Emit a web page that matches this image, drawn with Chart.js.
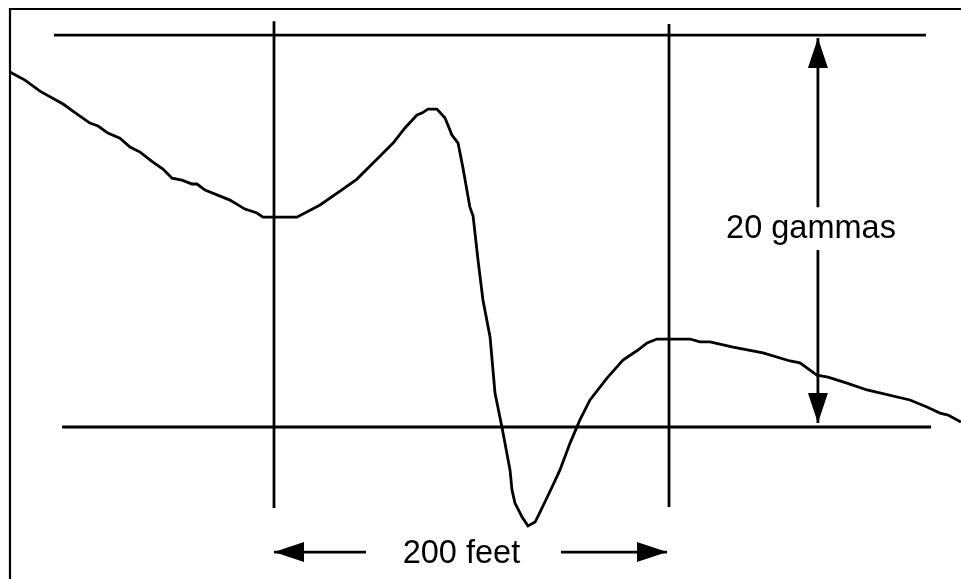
<!DOCTYPE html>
<html>
<head>
<meta charset="utf-8">
<script src="https://cdn.jsdelivr.net/npm/chart.js@4/dist/chart.umd.min.js"></script>
<style>
  html, body { margin: 0; padding: 0; background: #fff; }
  #wrap { width: 961px; height: 579px; position: relative; }
</style>
</head>
<body>
<div id="wrap"><canvas id="chart"></canvas></div>
<script>
// magnetometer trace: distance (feet, 0 = left marker) vs field (gammas, 0 = lower reference)
const distanceFt = [
  -133.7, -126.1, -118.5, -106.8, -99.7, -93.2, -89.1, -84.1, -78.0, -72.9,
  -67.8, -61.3, -56.2, -51.6, -46.6, -41.5, -39.0, -34.9, -22.3, -14.7,
  -8.6, -5.6, 11.6, 23.3, 34.9, 42.0, 52.2, 60.3, 66.3, 72.4,
  74.9, 78.0, 82.5, 86.6, 90.1, 93.2, 95.7, 99.2, 100.8, 103.3,
  105.8, 109.4, 111.9, 115.4, 119.5, 120.5, 122.0, 125.6, 128.6, 132.2,
  134.7, 140.8, 144.8, 149.9, 154.9, 160.0, 168.6, 176.7, 184.3, 188.9,
  193.9, 210.6, 215.7, 220.8, 232.4, 247.6, 261.3, 266.3, 274.9, 280.5,
  290.1, 300.3, 322.0, 330.6, 337.2, 341.3, 347.8
];
const fieldGammas = [
  18.11, 17.70, 17.14, 16.48, 15.97, 15.51, 15.36, 15.00, 14.74, 14.29,
  14.03, 13.52, 13.16, 12.70, 12.60, 12.40, 12.40, 12.09, 11.58, 11.12,
  10.92, 10.71, 10.71, 11.33, 12.14, 12.65, 13.67, 14.49, 15.26, 15.92,
  16.02, 16.22, 16.22, 15.77, 14.90, 14.49, 13.21, 11.22, 10.77, 8.52,
  6.48, 4.59, 1.73, 0.00, -2.19, -3.21, -3.88, -4.59, -5.05, -4.85,
  -4.34, -3.06, -2.19, -0.82, 0.36, 1.38, 2.50, 3.42, 3.93, 4.29,
  4.49, 4.49, 4.34, 4.34, 4.08, 3.78, 3.37, 3.27, 2.65, 2.55,
  2.24, 1.89, 1.38, 1.02, 0.71, 0.61, 0.26
];

// reference lines: two horizontal levels, two vertical markers
const levelGammas = [20, 0];
const levelFromFt = [-111.4, -107.3];
const levelToFt = [330.1, 332.7];
const markerFt = [0, 200];
const markerTopGammas = [20.71, 20.56];
const markerBottomGammas = [-4.13, -4.08];

// dimension arrows: shaft segments [x1, y1, x2, y2] and head tips [x, y, direction]
const arrowShafts = [
  [275.4, 19.85, 275.4, 11.22],
  [275.4, 9.03, 275.4, 0.2],
  [0, -6.38, 46.6, -6.38],
  [145.3, -6.38, 199, -6.38]
];
const arrowTips = [
  [275.4, 19.85, "up"],
  [275.4, 0.2, "down"],
  [0, -6.38, "left"],
  [199, -6.38, "right"]
];

const labelText = ["20 gammas", "200 feet"];
const labelFt = [271.9, 94.9];
const labelGammas = [9.64, -6.94];

const ink = "#000";
const strokeWidth = 2.8;

function segment(x1, y1, x2, y2) {
  return {
    data: [{ x: x1, y: y1 }, { x: x2, y: y2 }],
    borderColor: ink,
    borderWidth: strokeWidth,
    pointRadius: 0,
    tension: 0
  };
}

const datasets = [
  {
    data: distanceFt.map((x, i) => ({ x, y: fieldGammas[i] })),
    borderColor: ink,
    borderWidth: strokeWidth,
    pointRadius: 0,
    tension: 0
  }
];
levelGammas.forEach((g, i) => datasets.push(segment(levelFromFt[i], g, levelToFt[i], g)));
markerFt.forEach((x, i) => datasets.push(segment(x, markerTopGammas[i], x, markerBottomGammas[i])));
arrowShafts.forEach((s) => datasets.push(segment(s[0], s[1], s[2], s[3])));

const annotations = {
  id: "annotations",
  afterDraw(chart) {
    const ctx = chart.ctx;
    const xs = chart.scales.x;
    const ys = chart.scales.y;
    const area = chart.chartArea;
    ctx.save();

    // frame (top and left edges only are visible)
    ctx.strokeStyle = ink;
    ctx.lineWidth = 2.2;
    ctx.beginPath();
    ctx.moveTo(area.left, chart.height + 5);
    ctx.lineTo(area.left, area.top);
    ctx.lineTo(chart.width + 5, area.top);
    ctx.stroke();

    // arrow heads
    ctx.fillStyle = ink;
    const len = 30;
    const half = 10;
    arrowTips.forEach(([x, y, dir]) => {
      const px = xs.getPixelForValue(x);
      const py = ys.getPixelForValue(y);
      ctx.beginPath();
      ctx.moveTo(px, py);
      if (dir === "up") {
        ctx.lineTo(px - half, py + len);
        ctx.lineTo(px + half, py + len);
      } else if (dir === "down") {
        ctx.lineTo(px - half, py - len);
        ctx.lineTo(px + half, py - len);
      } else if (dir === "left") {
        ctx.lineTo(px + len, py - half);
        ctx.lineTo(px + len, py + half);
      } else {
        ctx.lineTo(px - len, py - half);
        ctx.lineTo(px - len, py + half);
      }
      ctx.closePath();
      ctx.fill();
    });

    // labels
    ctx.font = "32.5px 'Liberation Sans', Arial, sans-serif";
    ctx.textAlign = "center";
    ctx.textBaseline = "alphabetic";
    labelText.forEach((t, i) => {
      ctx.fillText(t, xs.getPixelForValue(labelFt[i]), ys.getPixelForValue(labelGammas[i]));
    });

    ctx.restore();
  }
};

new Chart(document.getElementById("chart"), {
  type: "line",
  data: { datasets },
  options: {
    responsive: true,
    maintainAspectRatio: false,
    animation: false,
    events: [],
    layout: { padding: { left: 10, top: 9, right: 0, bottom: 0 } },
    plugins: {
      legend: { display: false },
      tooltip: { enabled: false }
    },
    scales: {
      x: { type: "linear", min: -133.67, max: 347.85, display: false },
      y: { type: "linear", min: -7.755, max: 21.33, display: false }
    }
  },
  plugins: [annotations]
});
</script>
</body>
</html>
